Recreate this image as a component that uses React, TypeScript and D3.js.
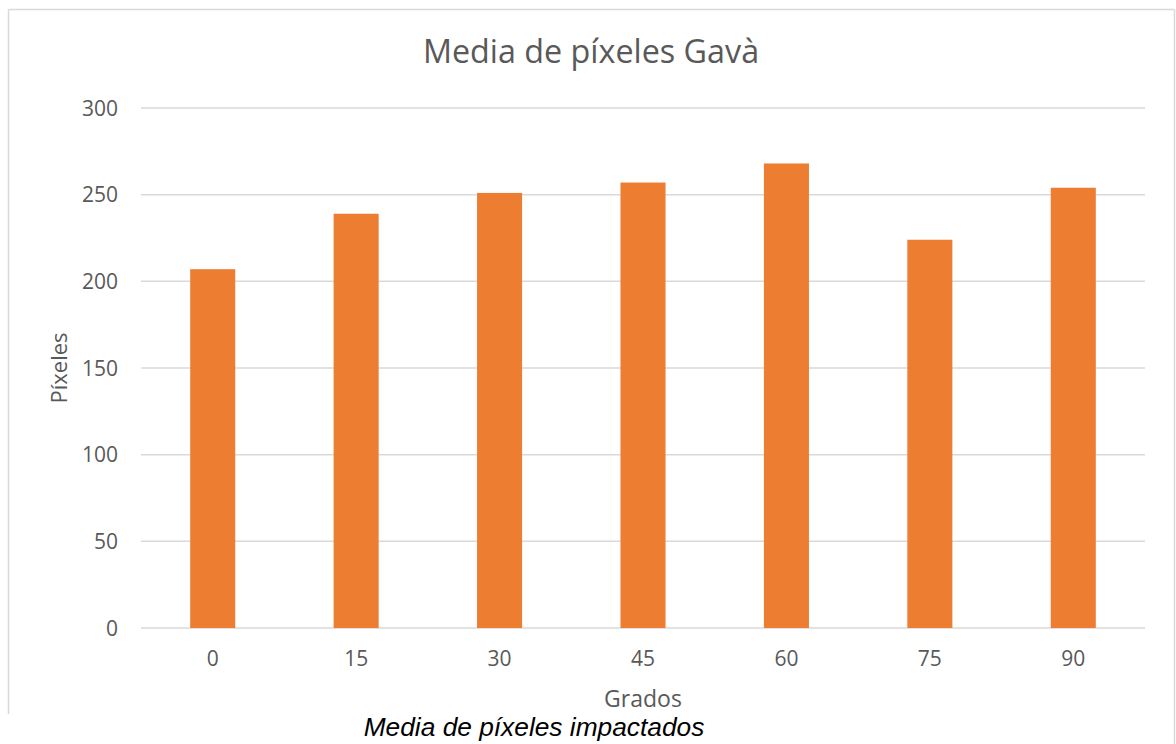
import React from "react";
import * as d3 from "d3";

const categories = ["0", "15", "30", "45", "60", "75", "90"];
const values = [207, 239, 251, 257, 268, 224, 254];
const yTicks = [0, 50, 100, 150, 200, 250, 300];

const W = 1176;
const H = 744;
const plot = { left: 141, right: 1145, top: 108, bottom: 628 };

const TEXT = "#595959";
const GRID = "#D9D9D9";
const BAR = "#ED7D31";
const FONT = "'Open Sans', 'Noto Sans', sans-serif";

export default function App() {
  const x = d3
    .scaleBand<string>()
    .domain(categories)
    .range([plot.left, plot.right])
    .paddingInner(0.686)
    .paddingOuter(0.343);
  const y = d3.scaleLinear().domain([0, 300]).range([plot.bottom, plot.top]);

  return (
    <svg
      width={W}
      height={H}
      style={{ position: "absolute", left: 0, top: 0, background: "#fff" }}
    >
      {/* chart frame */}
      <line x1={8.5} y1={9.5} x2={1174.5} y2={9.5} stroke={GRID} strokeWidth={1.5} />
      <line x1={8.5} y1={9.5} x2={8.5} y2={714} stroke={GRID} strokeWidth={1.5} />
      <line x1={1174.5} y1={9.5} x2={1174.5} y2={H} stroke={GRID} strokeWidth={1.5} />

      <text
        x={591}
        y={63}
        textAnchor="middle"
        fontFamily={FONT}
        fontSize={32.3}
        fill={TEXT}
      >
        Media de píxeles Gavà
      </text>

      {/* gridlines and y labels */}
      {yTicks.map((t) => (
        <g key={t}>
          <line
            x1={plot.left}
            x2={plot.right}
            y1={y(t)}
            y2={y(t)}
            stroke={GRID}
            strokeWidth={1.5}
          />
          <text
            x={118}
            y={y(t)}
            dy="0.36em"
            textAnchor="end"
            fontFamily={FONT}
            fontSize={21}
            fill={TEXT}
          >
            {t}
          </text>
        </g>
      ))}

      {/* bars */}
      {categories.map((c, i) => (
        <rect
          key={c}
          x={x(c)}
          y={y(values[i])}
          width={x.bandwidth()}
          height={y(0) - y(values[i])}
          fill={BAR}
        />
      ))}

      {/* x labels */}
      {categories.map((c) => (
        <text
          key={c}
          x={(x(c) as number) + x.bandwidth() / 2}
          y={666}
          textAnchor="middle"
          fontFamily={FONT}
          fontSize={21}
          fill={TEXT}
        >
          {c}
        </text>
      ))}

      <text
        x={(plot.left + plot.right) / 2}
        y={707}
        textAnchor="middle"
        fontFamily={FONT}
        fontSize={23}
        fill={TEXT}
      >
        Grados
      </text>

      <text
        transform={`translate(67,368) rotate(-90)`}
        textAnchor="middle"
        fontFamily={FONT}
        fontSize={22}
        fill={TEXT}
      >
        Píxeles
      </text>

      <text
        x={534}
        y={736}
        textAnchor="middle"
        fontFamily="'Liberation Sans', Arial, sans-serif"
        fontStyle="italic"
        fontSize={26.3}
        fill="#000"
      >
        Media de píxeles impactados
      </text>
    </svg>
  );
}
